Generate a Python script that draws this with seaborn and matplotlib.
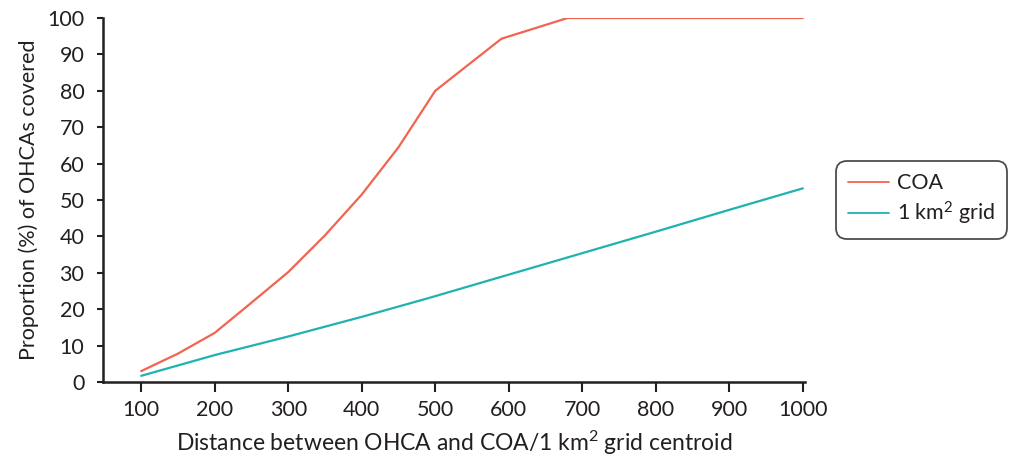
import matplotlib
matplotlib.use("Agg")
import matplotlib.pyplot as plt
import seaborn as sns
import pandas as pd

# Data
coa_x = [100, 150, 200, 250, 300, 350, 400, 450, 500, 590, 680, 700, 800, 900, 1000]
coa_y = [3.0, 7.8, 13.5, 21.8, 30.2, 40.3, 51.5, 64.5, 80.0, 94.3, 100, 100, 100, 100, 100]
grid_x = [100, 200, 300, 400, 490, 600, 700, 800, 900, 1000]
grid_y = [1.7, 7.4, 12.5, 17.9, 23.0, 29.5, 35.4, 41.3, 47.3, 53.2]
x_ticks = [100, 200, 300, 400, 500, 600, 700, 800, 900, 1000]
y_ticks = [0, 10, 20, 30, 40, 50, 60, 70, 80, 90, 100]

df = pd.concat([
    pd.DataFrame({"x": coa_x, "y": coa_y, "series": "COA"}),
    pd.DataFrame({"x": grid_x, "y": grid_y, "series": "1 km$^\\mathrm{2}$ grid"}),
])

sns.set_style("white")
plt.rcParams["font.family"] = ["Lato", "DejaVu Sans"]
plt.rcParams["mathtext.fontset"] = "custom"
plt.rcParams["mathtext.rm"] = "Lato"
plt.rcParams["mathtext.it"] = "Lato"

ink = "#231F20"
fs = 15.5
fig = plt.figure(figsize=(10.13, 4.62), dpi=100)
ax = fig.add_axes([103/1013, 1-382/462, (805-103)/1013, (382-18)/462])

sns.lineplot(data=df, x="x", y="y", hue="series", sort=False,
             palette=["#F26451", "#1EB2B0"], linewidth=1.6, ax=ax, legend=True)

ax.set_xlim(48, 1003)
ax.set_ylim(0, 100)
ax.set_xticks(x_ticks)
ax.set_yticks(y_ticks)
ax.tick_params(axis="x", direction="out", length=7, width=1.5, color=ink,
               labelsize=fs, labelcolor=ink, pad=6, bottom=True)
ax.tick_params(axis="y", direction="out", length=4.5, width=1.5, color=ink,
               labelsize=fs, labelcolor=ink, pad=9, left=True)
for s in ["top", "right"]:
    ax.spines[s].set_visible(False)
for s in ["left", "bottom"]:
    ax.spines[s].set_color(ink)
    ax.spines[s].set_linewidth(1.8)

ax.set_xlabel("Distance between OHCA and COA/1 km$^\\mathrm{2}$ grid centroid",
              fontsize=16.5, color=ink, labelpad=6)
ax.set_ylabel("Proportion (%) of OHCAs covered", fontsize=fs, color=ink, labelpad=6)

handles, labels = ax.get_legend_handles_labels()
ax.legend_.remove()
leg = fig.legend(handles, labels, loc="center left",
                 bbox_to_anchor=(836/1013, 1-200/462), frameon=True,
                 fancybox=True, fontsize=fs, handlelength=1.9,
                 borderpad=0.55, labelspacing=0.3, handletextpad=0.4,
                 borderaxespad=0)
frame = leg.get_frame()
frame.set_edgecolor(ink)
frame.set_linewidth(1.3)
frame.set_boxstyle("round,pad=0,rounding_size=0.5")
for t in leg.get_texts():
    t.set_color(ink)
for l in leg.get_lines():
    l.set_linewidth(1.3)

fig.savefig("out.png", dpi=100)
